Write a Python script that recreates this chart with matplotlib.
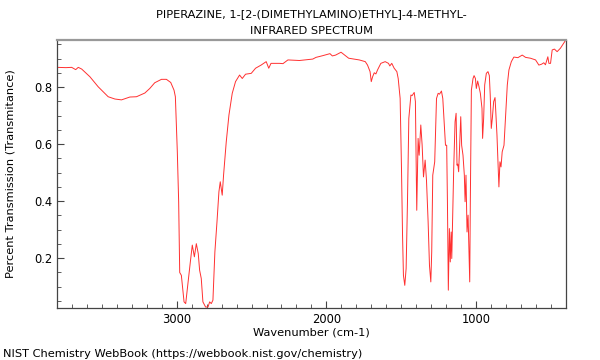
import matplotlib
matplotlib.use("Agg")
import matplotlib.pyplot as plt
from matplotlib.ticker import MultipleLocator

TITLE = "PIPERAZINE, 1-[2-(DIMETHYLAMINO)ETHYL]-4-METHYL-\nINFRARED SPECTRUM"
XLABEL = "Wavenumber (cm-1)"
YLABEL = "Percent Transmission (Transmitance)"
CREDIT = "NIST Chemistry WebBook (https://webbook.nist.gov/chemistry)"

# spectrum (wavenumber, transmittance)
wavenumber = [
    3800, 3740, 3702, 3675, 3658, 3635, 3580, 3525, 3458, 3413, 3369, 3313,
    3269, 3213, 3180, 3147, 3102, 3069, 3040, 3018, 3009, 2996, 2987, 2980,
    2969, 2951, 2940, 2924, 2909, 2896, 2882, 2869, 2856, 2847, 2836, 2825,
    2807, 2791, 2780, 2769, 2758, 2745, 2731, 2718, 2709, 2696, 2687, 2669,
    2651, 2629, 2607, 2580, 2562, 2540, 2502, 2473, 2436, 2402, 2385, 2370,
    2313, 2290, 2257, 2180, 2091, 2069, 2024, 1976, 1960, 1938, 1902, 1880,
    1851, 1780, 1740, 1725, 1708, 1700, 1691, 1680, 1669, 1658, 1636, 1607,
    1585, 1576, 1563, 1547, 1529, 1520, 1507, 1498, 1491, 1485, 1476, 1467,
    1458, 1449, 1435, 1427, 1413, 1405, 1396, 1387, 1380, 1369, 1360, 1351,
    1340, 1331, 1320, 1311, 1302, 1296, 1289, 1276, 1264, 1253, 1244, 1231,
    1222, 1213, 1204, 1196, 1191, 1185, 1178, 1172, 1166, 1162, 1157, 1149,
    1140, 1133, 1127, 1122, 1116, 1109, 1102, 1096, 1087, 1078, 1073, 1067,
    1060, 1053, 1047, 1042, 1038, 1031, 1020, 1013, 1004, 998, 989, 980,
    971, 960, 956, 949, 942, 931, 920, 911, 905, 898, 891, 882,
    873, 869, 860, 853, 847, 840, 833, 825, 813, 802, 791, 780,
    764, 747, 720, 691, 669, 636, 602, 580, 562, 547, 536, 520,
    513, 502, 491, 476, 458, 436, 400,
]
transmittance = [
    0.869, 0.868, 0.869, 0.861, 0.869, 0.863, 0.836, 0.801, 0.766, 0.758, 0.755, 0.765,
    0.766, 0.779, 0.795, 0.815, 0.827, 0.827, 0.816, 0.789, 0.766, 0.573, 0.398, 0.150,
    0.140, 0.047, 0.041, 0.117, 0.187, 0.246, 0.205, 0.251, 0.216, 0.158, 0.129, 0.047,
    0.029, 0.029, 0.047, 0.041, 0.053, 0.222, 0.327, 0.433, 0.468, 0.421, 0.491, 0.608,
    0.702, 0.778, 0.819, 0.842, 0.830, 0.845, 0.848, 0.866, 0.877, 0.889, 0.866, 0.883,
    0.883, 0.882, 0.895, 0.893, 0.898, 0.904, 0.910, 0.917, 0.909, 0.912, 0.922, 0.913,
    0.901, 0.895, 0.889, 0.877, 0.854, 0.819, 0.836, 0.850, 0.846, 0.860, 0.883, 0.889,
    0.883, 0.874, 0.883, 0.866, 0.854, 0.830, 0.760, 0.515, 0.281, 0.140, 0.105, 0.164,
    0.398, 0.690, 0.772, 0.770, 0.781, 0.749, 0.368, 0.620, 0.561, 0.667, 0.596, 0.485,
    0.544, 0.474, 0.327, 0.175, 0.117, 0.222, 0.491, 0.538, 0.760, 0.778, 0.775, 0.786,
    0.760, 0.678, 0.596, 0.596, 0.398, 0.088, 0.304, 0.187, 0.292, 0.199, 0.327, 0.515,
    0.678, 0.708, 0.526, 0.530, 0.503, 0.596, 0.696, 0.596, 0.561, 0.491, 0.398, 0.491,
    0.292, 0.351, 0.222, 0.117, 0.398, 0.789, 0.830, 0.840, 0.830, 0.795, 0.821, 0.801,
    0.778, 0.725, 0.620, 0.690, 0.807, 0.848, 0.854, 0.840, 0.772, 0.655, 0.690, 0.749,
    0.763, 0.725, 0.632, 0.538, 0.450, 0.538, 0.520, 0.573, 0.596, 0.702, 0.807, 0.860,
    0.889, 0.905, 0.903, 0.912, 0.904, 0.901, 0.895, 0.877, 0.880, 0.885, 0.878, 0.906,
    0.883, 0.883, 0.930, 0.933, 0.924, 0.936, 0.965,
]

fig = plt.figure(figsize=(6, 3.6), dpi=100)
ax = fig.add_axes([0.095, 0.144, 0.848, 0.745])
ax.plot(wavenumber, transmittance, color="#ff3030", lw=0.7)

ax.set_xlim(3800, 400)
ax.set_ylim(0.025, 0.965)
ax.xaxis.set_major_locator(MultipleLocator(1000))
ax.xaxis.set_minor_locator(MultipleLocator(100))
ax.yaxis.set_major_locator(MultipleLocator(0.2))
ax.yaxis.set_minor_locator(MultipleLocator(0.05))
ax.tick_params(which="both", direction="in", top=False, right=False,
               labelsize=8.3, color="#444444")
ax.tick_params(which="major", length=5)
ax.tick_params(which="minor", length=3)

for side in ("left", "bottom", "right"):
    ax.spines[side].set_color("#444444")
    ax.spines[side].set_linewidth(0.9)
ax.spines["top"].set_color("#999999")
ax.spines["top"].set_linewidth(1.6)

ax.set_xlabel(XLABEL, fontsize=8.2, labelpad=1)
ax.set_ylabel(YLABEL, fontsize=8.2)
ax.yaxis.set_label_coords(-0.082, 0.5)
ax.set_title(TITLE, fontsize=8.2, linespacing=1.95, pad=4)
fig.text(0.005, 0.008, CREDIT, fontsize=8.2)

fig.savefig("out.png", dpi=100)
